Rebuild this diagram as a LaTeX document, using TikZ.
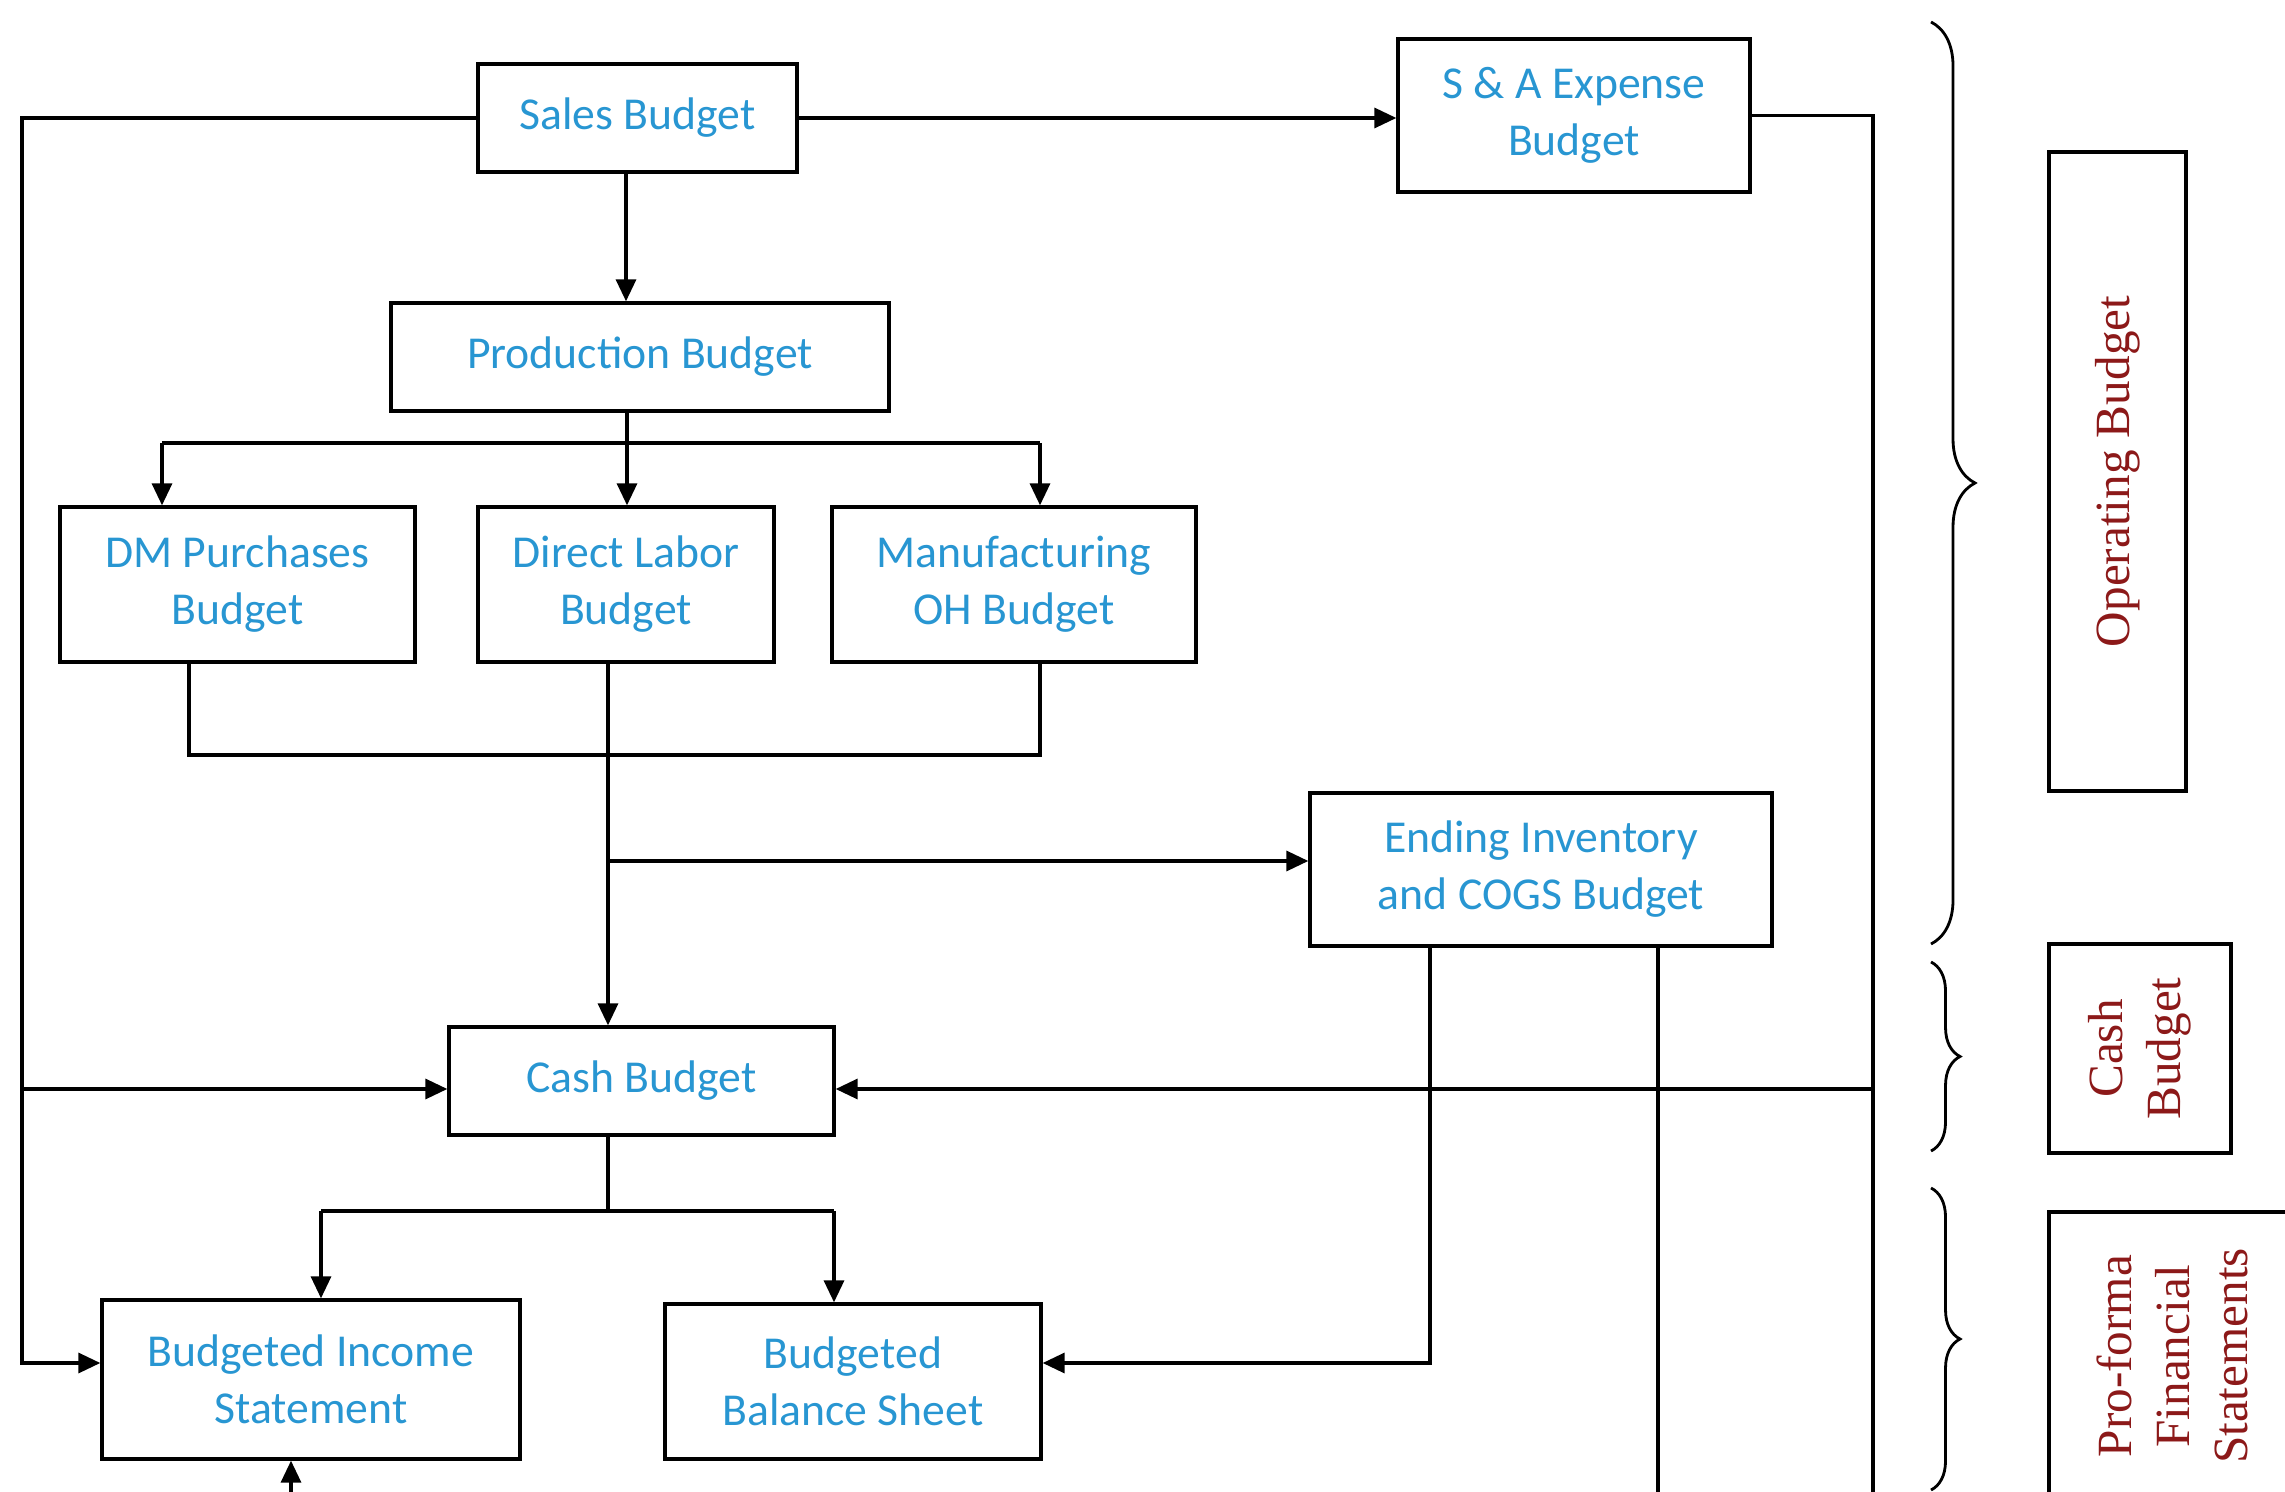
\documentclass[tikz,border=0pt]{standalone}
\usepackage{fontspec}
\newfontfamily\boxfont{Carlito}
\newfontfamily\lblfont{Liberation Serif}
\usetikzlibrary{arrows.meta,decorations.pathreplacing,calc}
\definecolor{txtblue}{RGB}{40,150,210}
\definecolor{lblred}{RGB}{140,25,25}
\begin{document}
\begin{tikzpicture}[x=0.1mm,y=-0.1mm,
  box/.style={draw=black, line width=0.95pt, align=center, inner sep=0pt, text=txtblue, font=\boxfont\fontsize{13}{16.2}\selectfont},
  lbl/.style={draw=black, line width=0.95pt, align=center, inner sep=0pt, rotate=90, text=lblred, font=\lblfont\fontsize{14}{16.5}\selectfont},
  conn/.style={draw=black, line width=0.95pt, line join=miter},
  arr/.style={conn, -{Triangle[length=2.2mm,width=2mm]}},
  brc/.style={draw=black, line width=0.8pt, decorate, decoration={brace, amplitude=#1}},
]
\useasboundingbox (0,0) rectangle (2285,1492);
\clip (0,0) rectangle (2285,1492);

% boxes
\node[box, minimum width=31.9mm, minimum height=10.8mm] (sales) at (637.5,118) {Sales Budget};
\node[box, minimum width=35.2mm, minimum height=15.3mm] (sa) at (1574,115.5) {S \& A Expense\\Budget};
\node[box, minimum width=49.8mm, minimum height=10.8mm] (prod) at (640,357) {Production Budget};
\node[box, minimum width=35.5mm, minimum height=15.5mm] (dm) at (237.5,584.5) {DM Purchases\\Budget};
\node[box, minimum width=29.6mm, minimum height=15.5mm] (dl) at (626,584.5) {Direct Labor\\Budget};
\node[box, minimum width=36.4mm, minimum height=15.5mm] (moh) at (1014,584.5) {Manufacturing\\OH Budget};
\node[box, minimum width=46.2mm, minimum height=15.3mm] (ei) at (1541,869.5) {Ending Inventory\\and COGS Budget};
\node[box, minimum width=38.5mm, minimum height=10.8mm] (cash) at (641.5,1081) {Cash Budget};
\node[box, minimum width=41.8mm, minimum height=15.9mm] (inc) at (311,1379.5) {Budgeted Income\\Statement};
\node[box, minimum width=37.6mm, minimum height=15.5mm] (bal) at (853,1381.5) {Budgeted\\Balance Sheet};

% side labels
\node[lbl, minimum width=63.9mm, minimum height=13.7mm] (oplbl) at (2117.5,471.5) {Operating Budget};
\node[lbl, minimum width=20.9mm, minimum height=18.2mm] (cashlbl) at (2140,1048.5) {Cash\\Budget};
\node[lbl, minimum width=28.8mm, minimum height=24.6mm] (prolbl) at (2172,1356) {Pro-forma\\Financial\\Statements};

% braces
\draw[brc=4.4mm] (1931,22) -- (1931,944);
\draw[brc=2.9mm] (1931,962) -- (1931,1151);
\draw[brc=2.9mm] (1931,1188) -- (1931,1490);

% coordinates
\coordinate (lt) at (22,118);
\coordinate (lc) at (22,1089);
\coordinate (lb) at (22,1363);
\coordinate (rt) at (1873,115.5);
\coordinate (rc) at (1873,1089);
\coordinate (rb) at (1873,1500);
\coordinate (pj) at (627,443);
\coordinate (pjl) at (162,443);
\coordinate (pjr) at (1040,443);
\coordinate (bjl) at (189,755);
\coordinate (bjr) at (1040,755);
\coordinate (bjm) at (608,755);
\coordinate (eij) at (608,861);
\coordinate (eil) at (1430,1363);
\coordinate (eir) at (1658,1500);
\coordinate (cj) at (608,1211);
\coordinate (cjl) at (321,1211);
\coordinate (cjr) at (834,1211);
\coordinate (ib) at (291,1500);

% connectors
\draw[arr] (sales.east) -- (sales.east -| sa.west);
\draw[arr] (sales.west) -- (lt) -- (lb) -- (lb -| inc.west);
\draw[arr] (lc) -- (lc -| cash.west);
\draw[conn] (sa.east) -- (rt) -- (rb);
\draw[arr] (rc) -- (rc -| cash.east);
\draw[arr] (sales.south -| dl.north) -- (prod.north -| dl.north);
\draw[conn] (prod.south -| pj) -- (pj);
\draw[conn] (pjl) -- (pjr);
\draw[arr] (pjl) -- (pjl |- dm.north);
\draw[arr] (pj) -- (pj |- dl.north);
\draw[arr] (pjr) -- (pjr |- moh.north);
\draw[conn] (bjl |- dm.south) -- (bjl) -- (bjr) -- (bjr |- moh.south);
\draw[arr] (bjm |- dl.south) -- (bjm |- cash.north);
\draw[arr] (eij) -- (eij -| ei.west);
\draw[arr] (eil |- ei.south) -- (eil) -- (eil -| bal.east);
\draw[conn] (eir |- ei.south) -- (eir);
\draw[conn] (cj |- cash.south) -- (cj);
\draw[conn] (cjl) -- (cjr);
\draw[arr] (cjl) -- (cjl |- inc.north);
\draw[arr] (cjr) -- (cjr |- bal.north);
\draw[arr] (ib) -- (ib |- inc.south);
\end{tikzpicture}
\end{document}
